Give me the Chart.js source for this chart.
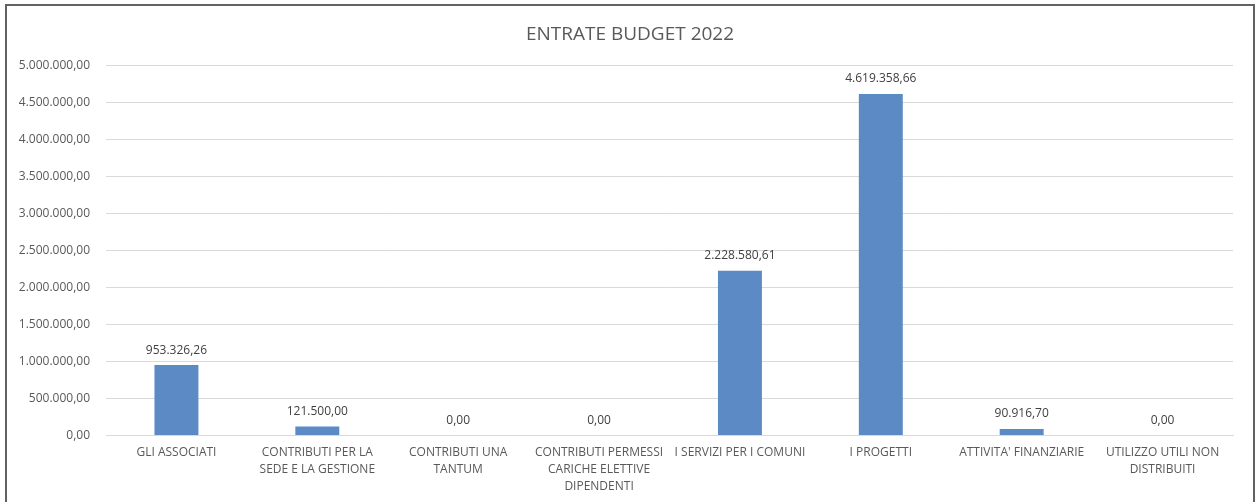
<!DOCTYPE html>
<html>
<head>
<meta charset="utf-8">
<script src="https://cdn.jsdelivr.net/npm/chart.js@4/dist/chart.umd.min.js"></script>
<style>
    body { margin: 0; background: #fff; overflow: hidden; }
    #wrap { position: relative; width: 1260px; height: 502px; }
    #frame { position: absolute; left: 5px; top: 4px; width: 1246px; height: 540px; border: 2px solid #626262; pointer-events: none; }
</style>
</head>
<body>
<div id="wrap">
    <canvas id="graficoEntrate" width="1260" height="502"></canvas>
    <div id="frame"></div>
</div>
<script>
var categorie = [
    ['GLI ASSOCIATI'],
    ['CONTRIBUTI PER LA', 'SEDE E LA GESTIONE'],
    ['CONTRIBUTI UNA', 'TANTUM'],
    ['CONTRIBUTI PERMESSI', 'CARICHE ELETTIVE', 'DIPENDENTI'],
    ['I SERVIZI PER I COMUNI'],
    ['I PROGETTI'],
    ["ATTIVITA' FINANZIARIE"],
    ['UTILIZZO UTILI NON', 'DISTRIBUITI']
];
var entrate = [953326.26, 121500.00, 0, 0, 2228580.61, 4619358.66, 90916.70, 0];
var tickMin = 0;
var tickMax = 5000000;
var tickStep = 500000;

// formato italiano 1.234.567,89
function formatta(v) {
    var s = Number(v).toFixed(2);
    var p = s.split('.');
    var intero = p[0].replace(/\B(?=(\d{3})+(?!\d))/g, '.');
    return intero + ',' + p[1];
}

var etichettePlugin = {
    id: 'etichette',
    afterDatasetsDraw: function (chart) {
        var ctx = chart.ctx;
        var meta = chart.getDatasetMeta(0);
        ctx.save();
        ctx.font = '12px "Open Sans"';
        ctx.fillStyle = '#404040';
        ctx.textAlign = 'center';
        ctx.textBaseline = 'middle';
        meta.data.forEach(function (bar, i) {
            ctx.fillText(formatta(entrate[i]), bar.x, bar.y - 15);
        });
        ctx.restore();
    }
};

var chartdata = {
    labels: categorie,
    datasets: [
        {
            label: 'Entrate',
            backgroundColor: '#5B8AC5',
            borderWidth: 0,
            data: entrate,
            barPercentage: 0.312,
            categoryPercentage: 1
        }
    ]
};

var graphTarget = document.getElementById('graficoEntrate');

var barGraph = new Chart(graphTarget, {
    type: 'bar',
    data: chartdata,
    plugins: [etichettePlugin],
    options: {
        responsive: false,
        animation: false,
        layout: { padding: { left: 0, right: 0, top: 0, bottom: -2 } },
        plugins: {
            legend: { display: false },
            tooltip: { enabled: false },
            title: {
                display: true,
                text: 'ENTRATE BUDGET 2022',
                color: '#595959',
                font: { family: 'Open Sans', size: 19, weight: 'normal' },
                padding: { top: 23, bottom: 20 }
            }
        },
        scales: {
            x: {
                grid: { display: false, drawTicks: false },
                border: { display: true, color: '#d9d9d9' },
                ticks: {
                    color: '#595959',
                    font: { family: 'Open Sans', size: 12, lineHeight: 1.4 },
                    maxRotation: 0,
                    autoSkip: false,
                    padding: 9
                }
            },
            y: {
                min: tickMin,
                max: tickMax,
                grid: { color: '#d9d9d9', drawTicks: false },
                border: { display: false },
                afterFit: function (scale) { scale.width = 106; },
                ticks: {
                    stepSize: tickStep,
                    color: '#595959',
                    padding: 16,
                    font: { family: 'Open Sans', size: 12 },
                    callback: function (v) { return formatta(v); }
                }
            },
            destra: {
                position: 'right',
                display: true,
                grid: { display: false, drawTicks: false },
                border: { display: false },
                ticks: { display: false },
                afterFit: function (scale) { scale.width = 27; }
            }
        }
    }
});
</script>
</body>
</html>
